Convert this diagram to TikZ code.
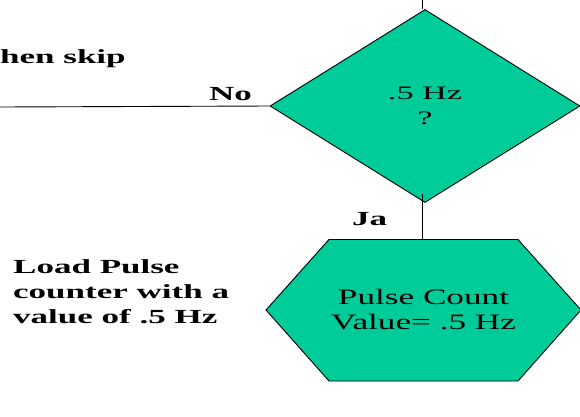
\documentclass[tikz,border=0pt]{standalone}
\usepackage{fontspec}
\usepackage{graphicx}
\setmainfont{Liberation Serif}
% wide-set text: glyphs stretched horizontally
\newcommand\diaw[1]{\scalebox{1.8}[1]{#1}}
\newcommand\regw[1]{\scalebox{1.6}[1]{#1}}
\newcommand\boldw[1]{\scalebox{1.75}[1]{#1}}
\usetikzlibrary{shapes.geometric}
\definecolor{boxgreen}{HTML}{00CC99}
\tikzset{
  shapebox/.style={draw=black, line width=0.9pt, fill=boxgreen, inner sep=0pt},
  shapetext/.style={inner sep=0pt, align=center, text=black},
  lbl/.style={inner sep=0pt, text=black, font=\bfseries\fontsize{20}{25}\selectfont},
  link/.style={draw=black, line width=0.9pt}
}
\begin{document}
\begin{tikzpicture}[x=1pt, y=-1pt]
  \useasboundingbox (0,0) rectangle (580,416);

  % decision: .5 Hz ?
  \node[shapebox, diamond, minimum width=310pt, minimum height=193pt,
        font=\fontsize{19}{25.5}\selectfont, align=center]
        (dia) at (425,106) {\diaw{.5 Hz}\\\diaw{?}};

  % preparation step (hexagon)
  \coordinate (hextop) at (422,239.5);
  \draw[shapebox] (266,310) -- (329,239.5) -- (518,239.5) -- (581,310)
        -- (518,381) -- (329,381) -- cycle;
  \node[shapetext, font=\fontsize{22}{25}\selectfont]
        (hex) at (423.5,310) {\regw{Pulse Count}\\\regw{Value= .5 Hz}};

  % connectors
  \coordinate (topend) at (422,0);
  \coordinate (leftend) at (0,107);
  \draw[link] (topend) -- (dia.north -| topend);
  \draw[link, shorten <=-9pt] (dia.south -| hextop) -- (hextop);
  \draw[link] (leftend) -- (dia.west);

  % labels
  \node[lbl, anchor=base west] (skip) at (0,63) {\boldw{hen skip}};
  \node[lbl, anchor=base west] (no) at (209,100) {\boldw{No}};
  \node[lbl, anchor=base west] (ja) at (352,225) {\boldw{Ja}};
  \node[lbl, anchor=base west, align=left] (load) at (13,323)
        {\boldw{Load Pulse}\\\boldw{counter with a}\\\boldw{value of .5 Hz}};
\end{tikzpicture}
\end{document}
